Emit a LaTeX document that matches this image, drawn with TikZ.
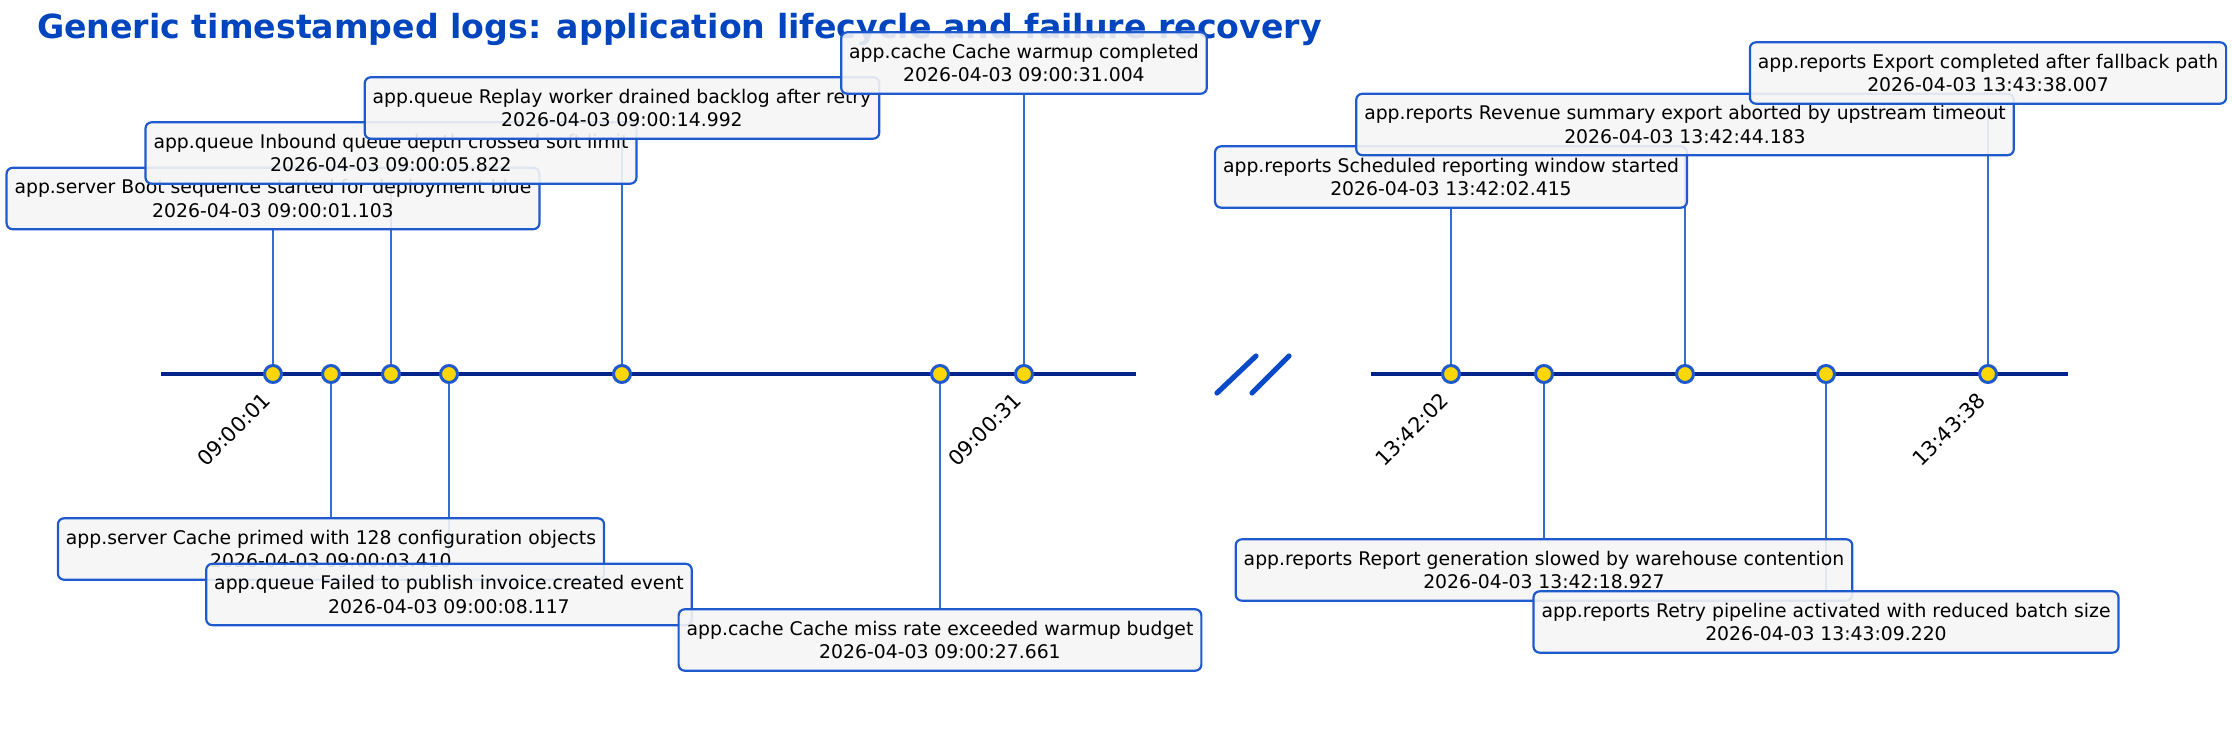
\documentclass[tikz,border=0pt]{standalone}
\usepackage{fontspec}
\setmainfont{DejaVu Sans}
\usetikzlibrary{backgrounds}
\definecolor{titleblue}{RGB}{0,68,190}
\definecolor{boxedge}{RGB}{30,90,205}
\definecolor{stemblue}{RGB}{50,110,210}
\definecolor{axisnavy}{RGB}{0,35,140}
\definecolor{dotgold}{RGB}{255,215,0}
\definecolor{boxgrey}{RGB}{245,245,245}
\definecolor{breakblue}{RGB}{10,74,200}
\begin{document}
\begin{tikzpicture}[x=0.5pt,y=-0.5pt,
    logbox/.style={draw=boxedge,line width=1.1pt,fill=boxgrey,fill opacity=.9,text opacity=1,
        rounded corners=3pt,align=center,inner xsep=4pt,inner ysep=5.9pt,
        font=\fontsize{9.4}{11.6}\selectfont},
    evdot/.style={circle,draw=boxedge,fill=dotgold,line width=1.5pt,minimum size=8.5pt,inner sep=0pt},
    stem/.style={draw=stemblue,line width=1pt},
    axisline/.style={draw=axisnavy,line width=2pt},
    tick/.style={rotate=45,anchor=east,inner sep=0pt,font=\fontsize{10.4}{12}\selectfont}]
\useasboundingbox (0,0) rectangle (2232,742);
    \node[anchor=base west,text=titleblue,font=\fontsize{16.6}{20}\selectfont\bfseries] (title) at (30,39)
        {Generic timestamped logs: application lifecycle and failure recovery};
% the two pieces of the time axis
    \coordinate (l0) at (161,374);
    \coordinate (l1) at (1136,374);
    \coordinate (r0) at (1371,374);
    \coordinate (r1) at (2068,374);
    \draw[axisline] (l0)--(l1);
    \draw[axisline] (r0)--(r1);
% break marks
    \coordinate (s1a) at (1217,393); \coordinate (s1b) at (1256,356);
    \coordinate (s2a) at (1252,393); \coordinate (s2b) at (1289,356);
    \draw[breakblue,line width=2.6pt,line cap=round] (s1a)--(s1b) (s2a)--(s2b);
% events, boxes above or below the axis
\foreach \n/\x/\y/\msg/\ts in {
    1/273/198.5/app.server Boot sequence started for deployment blue/09:00:01.103,
    2/331/549/app.server Cache primed with 128 configuration objects/09:00:03.410,
    3/391/153/app.queue Inbound queue depth crossed soft limit/09:00:05.822,
    4/449/594.5/app.queue Failed to publish invoice.created event/09:00:08.117,
    5/622/108/app.queue Replay worker drained backlog after retry/09:00:14.992,
    6/940/640/app.cache Cache miss rate exceeded warmup budget/09:00:27.661,
    7/1024/63/app.cache Cache warmup completed/09:00:31.004,
    8/1451/177/app.reports Scheduled reporting window started/13:42:02.415,
    9/1544/570/app.reports Report generation slowed by warehouse contention/13:42:18.927,
    10/1685/124.5/app.reports Revenue summary export aborted by upstream timeout/13:42:44.183,
    11/1826/622/app.reports Retry pipeline activated with reduced batch size/13:43:09.220,
    12/1988/73/app.reports Export completed after fallback path/13:43:38.007}
{
    \node[logbox] (m\n) at (\x,\y) {\msg\\2026-04-03 \ts};
    \node[evdot] (d\n) at (\x,374) {};
    \begin{pgfonlayer}{background}
        \draw[stem] (d\n)--(m\n);
    \end{pgfonlayer}
}
% tick labels
\foreach \n/\t in {1/09:00:01,7/09:00:31,8/13:42:02,12/13:43:38}
    \node[tick] (t\n) at ([shift={(-6,22)}]d\n.center) {\t};

\end{tikzpicture}
\end{document}
